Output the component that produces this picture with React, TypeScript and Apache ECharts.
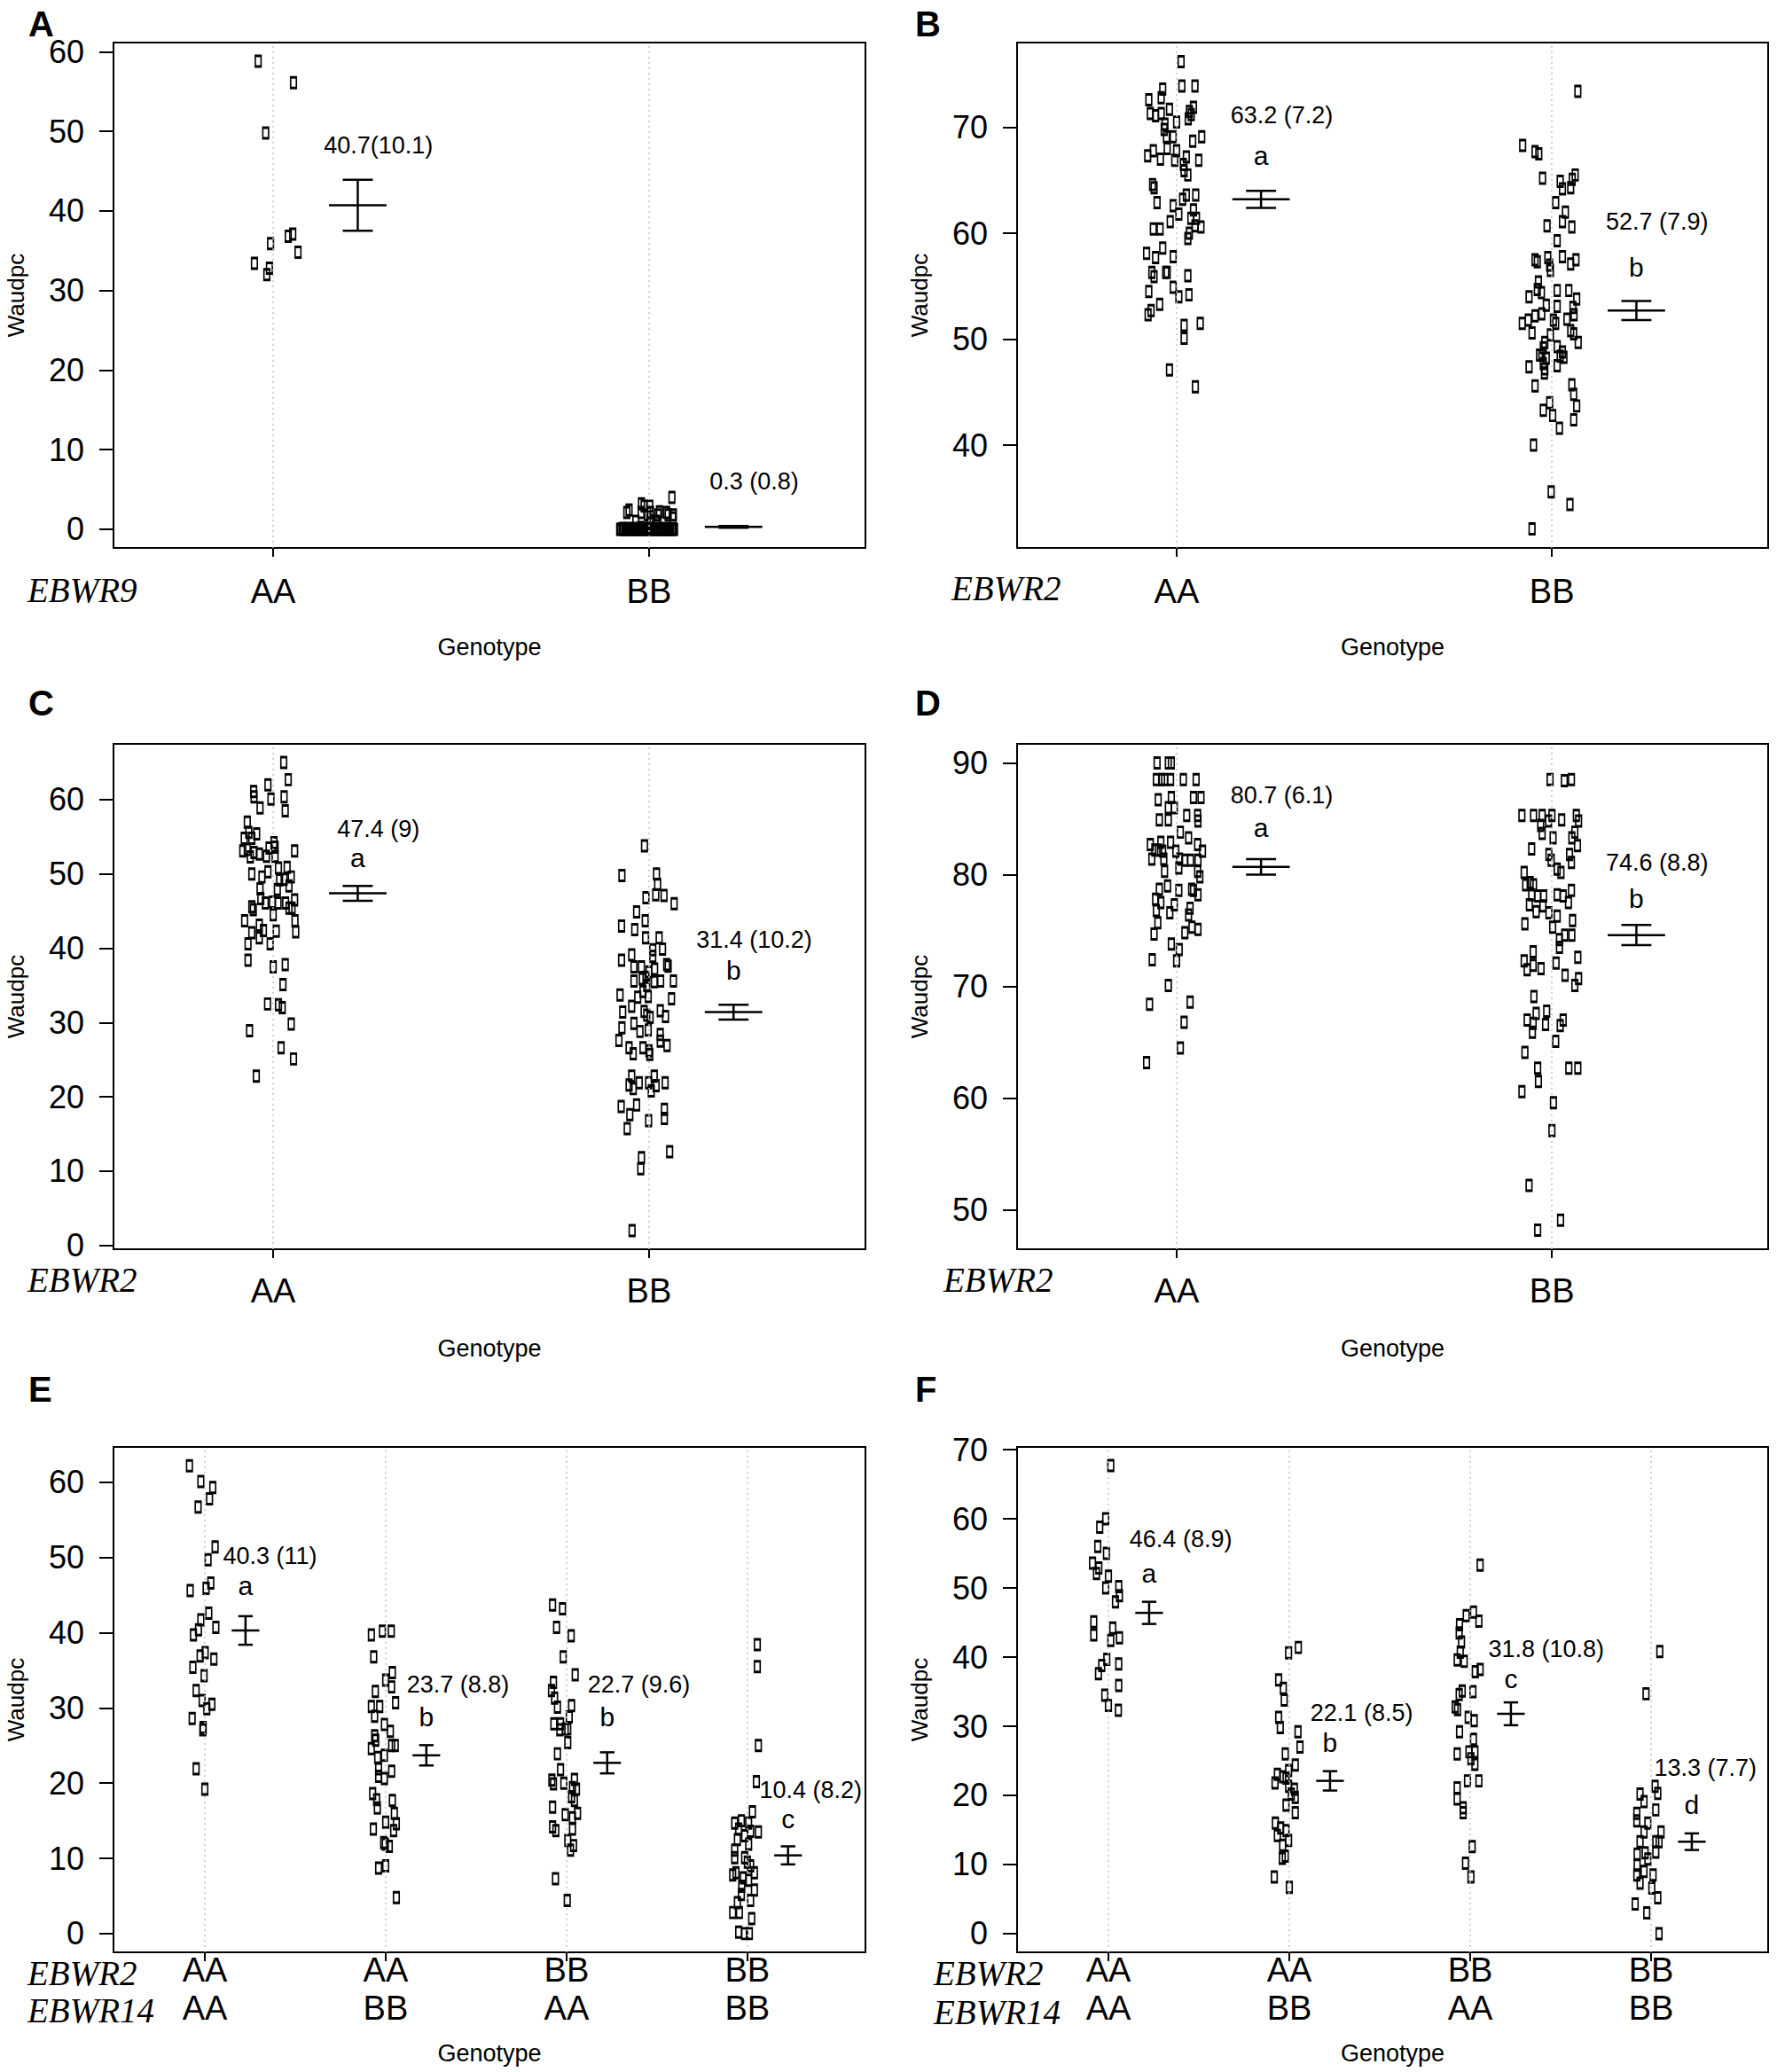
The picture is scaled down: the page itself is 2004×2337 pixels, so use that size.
import React, { useEffect, useRef } from 'react';
import * as echarts from 'echarts';

type P = [number, number]; // [jitter offset from category, Waudpc value]

// ---------- Panel A (EBWR9) ----------
const catsA = ['AA', 'BB'];
const ticksA = [0, 10, 20, 30, 40, 50, 60];
const A_AA: P[] = [[-0.040,58.8],[0.054,56.1],[-0.020,49.8],[0.052,37.1],[0.040,36.8],[-0.007,35.9],[0.066,34.8],[-0.050,33.4],[-0.010,32.8],[-0.017,32.0]];
const A_BB: P[] = [[0.061,4.0],[-0.059,2.1],[-0.053,2.4],[-0.020,3.2],[-0.013,2.9],[0.002,2.9],[-0.021,2.1],[0.004,2.1],[0.028,2.2],[0.024,1.8],[0.047,2.1],[0.051,1.8],[0.065,1.8],[0.063,1.4],[-0.035,1.0],[0.002,1.1],[0.020,1.0],[-0.004,1.8],
  [-0.078,0],[-0.075,0],[-0.071,0.1],[-0.068,0],[-0.064,0],[-0.061,0],[-0.057,0.1],[-0.054,0],[-0.050,0],[-0.047,0],[-0.043,0],[-0.040,0.1],[-0.036,0],[-0.033,0],[-0.029,0],[-0.026,0],[-0.022,0.2],[-0.019,0],[-0.015,0],[-0.012,0],[-0.008,0],[-0.005,0.1],[-0.001,0],[0.002,0],[0.006,0],[0.009,0.1],[0.013,0],[0.016,0],[0.020,0],[0.023,0],[0.027,0.1],[0.030,0],[0.034,0],[0.037,0],[0.041,0],[0.044,0.1],[0.048,0],[0.051,0],[0.055,0],[0.058,0],[0.062,0],[0.065,0],[0.068,0]];
const meansA = [40.7, 0.3];
const seA = [3.2, 0.12];
const labelsA = ['40.7(10.1)', '0.3 (0.8)'];
const labelYA = [48.2, 6.0];
const lettersA: string[] = [];
const letterYA: number[] = [];

// ---------- Panel B (EBWR2) ----------
const catsB = ['AA', 'BB'];
const ticksB = [40, 50, 60, 70];
const B_AA: P[] = [[0.012,76.2],[0.014,73.9],[0.049,73.9],[-0.037,73.6],[-0.041,72.8],[-0.074,72.6],[0.045,71.9],[-0.019,71.7],[-0.070,71.3],[-0.056,71.1],[-0.041,71.3],[0.034,71.5],[0.039,71.2],[0.031,70.8],[0.000,70.5],[-0.031,70.3],[-0.033,69.8],[-0.027,69.1],[-0.009,69.1],[0.067,69.1],[0.043,68.7],[-0.025,68.0],[-0.062,67.8],[-0.077,67.3],[-0.043,67.0],[0.000,67.8],[-0.005,66.9],[0.026,67.2],[0.059,66.9],[0.018,66.5],[0.020,65.9],[0.030,65.5],[-0.064,64.6],[-0.060,64.3],[0.051,63.6],[0.026,63.6],[0.016,63.2],[-0.052,62.9],[-0.009,62.6],[0.006,61.8],[0.045,62.2],[0.038,61.4],[0.053,61.4],[-0.017,61.1],[0.065,60.6],[0.049,60.7],[-0.062,60.4],[-0.044,60.4],[0.034,60.0],[0.030,59.5],[-0.037,58.6],[-0.080,58.1],[-0.056,57.7],[-0.009,57.8],[-0.066,56.3],[-0.060,55.9],[-0.029,56.3],[-0.025,56.3],[0.030,56.0],[-0.074,54.5],[-0.009,54.9],[0.006,54.0],[0.033,54.2],[-0.045,53.3],[-0.068,52.7],[-0.076,52.3],[0.063,51.5],[0.020,51.3],[0.020,50.1],[-0.019,47.1],[0.050,45.5]];
const B_BB: P[] = [[0.069,73.4],[-0.078,68.3],[-0.045,67.7],[-0.035,67.5],[-0.025,65.2],[0.062,65.5],[0.054,65.1],[0.022,64.9],[0.028,64.2],[0.050,64.3],[0.010,62.9],[0.036,62.0],[0.028,61.1],[0.053,60.6],[-0.013,60.7],[0.014,59.3],[-0.045,57.5],[-0.039,57.3],[-0.011,57.7],[-0.006,57.0],[-0.004,56.5],[0.028,57.8],[0.050,57.1],[0.064,57.5],[-0.036,55.4],[-0.039,54.7],[-0.028,54.4],[-0.061,54.0],[0.014,54.6],[0.045,54.6],[0.066,53.8],[-0.015,53.2],[0.014,53.1],[0.056,53.0],[-0.027,52.4],[-0.045,52.2],[-0.063,51.8],[-0.079,51.5],[0.004,51.8],[0.010,51.5],[0.040,51.9],[0.059,52.3],[-0.053,50.6],[0.050,50.8],[0.058,50.5],[-0.004,50.4],[0.070,49.7],[-0.019,49.7],[-0.023,49.2],[0.014,49.3],[-0.027,48.5],[-0.033,48.5],[-0.015,48.2],[0.028,48.8],[0.032,48.3],[0.022,48.4],[-0.023,47.7],[-0.019,47.2],[-0.061,47.4],[0.014,47.5],[-0.020,46.8],[-0.045,45.6],[0.053,45.7],[0.058,44.8],[0.066,43.7],[-0.006,44.0],[-0.023,43.3],[0.002,42.8],[0.058,42.4],[0.020,41.6],[-0.049,40.0],[-0.002,35.6],[0.048,34.4],[-0.053,32.1]];
const meansB = [63.2, 52.7];
const seB = [0.8, 0.9];
const labelsB = ['63.2 (7.2)', '52.7 (7.9)'];
const labelYB = [71.1, 61.1];
const lettersB = ['a', 'b'];
const letterYB = [67.3, 56.8];

// ---------- Panel C (EBWR2) ----------
const catsC = ['AA', 'BB'];
const ticksC = [0, 10, 20, 30, 40, 50, 60];
const C_AA: P[] = [[0.028,65.0],[0.040,62.7],[-0.014,62.0],[-0.052,61.1],[-0.051,60.4],[-0.006,60.1],[0.029,60.4],[-0.035,58.9],[0.032,58.5],[-0.069,57.0],[-0.065,55.6],[-0.044,55.4],[-0.077,54.8],[-0.057,54.8],[0.002,54.2],[0.005,53.6],[0.057,53.1],[-0.081,53.1],[-0.069,53.3],[-0.051,52.9],[-0.037,52.7],[-0.011,53.5],[-0.018,52.4],[0.005,52.4],[-0.061,52.3],[-0.057,50.0],[-0.014,50.3],[-0.030,49.6],[0.014,50.8],[0.037,50.9],[0.029,49.3],[0.048,49.6],[0.017,49.2],[-0.035,48.0],[0.011,47.9],[0.042,48.4],[-0.033,46.7],[-0.021,46.1],[-0.002,46.2],[0.013,46.1],[0.033,46.1],[0.057,46.5],[0.050,45.4],[0.042,45.4],[-0.057,45.6],[-0.053,45.2],[0.000,44.5],[-0.076,43.7],[0.058,43.7],[-0.037,43.1],[-0.026,42.4],[-0.057,42.1],[0.008,42.3],[0.060,42.2],[-0.037,41.4],[-0.067,40.6],[-0.008,40.6],[-0.067,38.4],[0.000,37.5],[0.032,37.8],[0.026,35.1],[-0.015,32.5],[0.014,32.4],[0.024,32.0],[0.048,29.8],[-0.063,28.9],[0.021,26.6],[0.054,25.1],[-0.045,22.8]];
const C_BB: P[] = [[-0.012,53.8],[-0.072,49.8],[0.020,50.0],[0.023,48.6],[0.018,47.2],[0.040,47.1],[-0.008,46.8],[0.067,46.0],[-0.033,44.9],[-0.010,43.7],[-0.073,43.0],[-0.038,42.5],[-0.009,41.4],[0.027,41.4],[0.036,39.9],[0.010,39.8],[0.010,38.9],[-0.046,39.1],[-0.073,38.4],[-0.040,37.5],[-0.020,37.5],[0.015,37.2],[0.047,37.8],[0.051,37.6],[0.000,36.8],[-0.008,36.1],[-0.018,35.9],[-0.040,35.6],[0.014,35.5],[0.031,35.6],[0.065,35.6],[-0.006,35.0],[-0.016,34.2],[-0.077,33.7],[-0.030,33.4],[-0.002,33.5],[0.060,33.2],[-0.046,32.2],[-0.013,31.5],[-0.006,31.0],[0.003,30.7],[-0.070,31.4],[0.030,31.6],[0.044,30.8],[-0.040,29.9],[-0.072,29.3],[-0.024,28.8],[-0.002,29.0],[0.030,28.4],[0.030,27.5],[0.048,26.9],[-0.080,27.6],[-0.053,26.6],[-0.042,25.8],[-0.016,26.6],[0.000,26.2],[0.002,25.7],[-0.046,22.8],[-0.053,21.6],[-0.042,21.1],[-0.026,21.9],[-0.001,21.9],[0.014,22.8],[0.019,21.5],[0.043,21.9],[0.006,20.8],[-0.074,18.7],[-0.033,18.9],[-0.051,17.6],[-0.001,16.8],[0.041,18.3],[0.041,17.1],[-0.058,15.7],[0.055,12.6],[-0.020,11.8],[-0.022,10.3],[-0.045,2.0]];
const meansC = [47.4, 31.4];
const seC = [1.0, 1.0];
const labelsC = ['47.4 (9)', '31.4 (10.2)'];
const labelYC = [56.1, 41.1];
const lettersC = ['a', 'b'];
const letterYC = [52.2, 37.0];

// ---------- Panel D (EBWR2) ----------
const catsD = ['AA', 'BB'];
const ticksD = [50, 60, 70, 80, 90];
const D_AA: P[] = [[-0.052,90.0],[-0.022,90.0],[-0.014,90.0],[-0.054,88.5],[-0.040,88.5],[-0.032,88.5],[-0.016,88.5],[0.018,88.5],[0.052,88.5],[-0.049,86.7],[-0.014,86.9],[0.045,86.9],[0.065,86.9],[-0.022,86.0],[-0.006,86.0],[-0.046,84.9],[-0.022,84.9],[0.027,85.3],[0.056,85.3],[0.057,84.8],[0.010,83.8],[0.032,83.3],[-0.070,82.7],[-0.042,82.9],[-0.016,82.9],[0.056,82.7],[-0.058,82.2],[-0.048,82.2],[-0.037,82.1],[-0.002,82.1],[0.069,82.1],[-0.066,81.4],[-0.034,81.4],[0.008,81.4],[0.022,81.3],[0.037,81.3],[0.057,81.3],[-0.032,80.3],[0.006,80.6],[0.056,80.3],[0.062,79.8],[-0.024,79.0],[-0.046,78.7],[0.006,78.6],[0.040,78.7],[0.045,78.6],[0.057,78.2],[-0.056,77.8],[-0.042,77.5],[-0.054,76.8],[-0.006,77.3],[-0.018,76.6],[0.036,77.0],[0.032,76.4],[-0.050,75.7],[0.041,75.3],[0.057,75.1],[0.022,74.8],[-0.060,74.7],[-0.014,73.8],[0.007,73.3],[-0.065,72.4],[0.000,72.3],[-0.022,70.1],[0.036,68.6],[-0.072,68.4],[0.020,66.8],[0.010,64.5],[-0.080,63.2]];
const D_BB: P[] = [[-0.005,88.5],[0.033,88.4],[0.052,88.5],[-0.080,85.3],[-0.049,85.3],[-0.026,85.3],[0.000,85.3],[0.026,84.9],[0.065,85.3],[-0.009,84.8],[0.071,84.8],[-0.030,84.4],[-0.026,83.7],[0.003,83.3],[0.061,83.8],[0.053,83.3],[0.068,82.6],[-0.054,82.3],[-0.008,81.8],[-0.002,81.3],[0.047,81.8],[0.052,81.1],[0.014,80.5],[0.024,80.2],[-0.074,80.2],[-0.070,79.1],[-0.058,79.3],[-0.049,79.1],[-0.054,78.2],[-0.038,78.1],[-0.022,78.1],[0.014,78.2],[0.030,78.1],[0.052,78.6],[0.044,77.5],[-0.060,77.3],[-0.042,76.7],[-0.024,77.2],[-0.008,76.6],[0.014,76.3],[-0.072,75.6],[0.002,75.3],[0.055,75.9],[0.020,74.2],[0.034,74.6],[0.053,74.6],[0.020,73.5],[-0.050,73.1],[-0.074,72.3],[-0.066,71.5],[-0.050,71.9],[-0.029,71.6],[0.011,72.1],[0.069,72.6],[0.035,71.0],[0.071,70.7],[0.061,70.1],[-0.048,69.1],[-0.014,67.8],[-0.066,67.0],[-0.050,66.7],[-0.042,67.6],[-0.017,66.6],[0.030,67.0],[0.022,66.5],[-0.052,65.9],[0.010,65.1],[-0.072,64.1],[-0.038,62.7],[0.045,62.7],[0.069,62.7],[-0.036,61.5],[-0.080,60.6],[0.004,59.6],[0.000,57.1],[-0.061,52.2],[0.023,49.1],[-0.038,48.2]];
const meansD = [80.7, 74.6];
const seD = [0.7, 0.9];
const labelsD = ['80.7 (6.1)', '74.6 (8.8)'];
const labelYD = [87.1, 81.1];
const lettersD = ['a', 'b'];
const letterYD = [84.2, 77.9];

// ---------- Panel E (EBWR2 x EBWR14) ----------
const catsE2 = ['AA', 'AA', 'BB', 'BB'];
const catsE14 = ['AA', 'BB', 'AA', 'BB'];
const ticksE = [0, 10, 20, 30, 40, 50, 60];
const E_1: P[] = [[-0.085,62.2],[-0.022,60.1],[0.044,59.3],[0.026,57.8],[-0.037,56.7],[0.057,51.4],[0.018,49.7],[-0.081,45.6],[0.007,45.9],[0.033,46.6],[0.022,42.6],[-0.022,41.7],[0.061,40.7],[-0.035,40.4],[-0.063,39.7],[0.002,37.35],[-0.026,36.9],[0.050,36.5],[-0.066,35.4],[-0.004,34.3],[-0.048,32.3],[-0.015,31.0],[0.039,30.5],[0.011,29.9],[-0.070,28.6],[-0.009,27.4],[-0.011,27.1],[-0.048,21.9],[0.000,19.2]];
const E_2: P[] = [[-0.079,39.7],[-0.018,40.2],[0.031,40.2],[-0.066,36.8],[0.037,34.7],[0.000,33.7],[0.033,32.8],[-0.057,32.2],[0.055,30.7],[-0.079,30.2],[-0.033,30.2],[-0.061,28.9],[-0.007,27.8],[0.026,26.9],[-0.061,26.3],[-0.055,25.7],[0.053,25.0],[0.033,25.0],[-0.079,24.6],[-0.007,23.7],[-0.044,23.4],[-0.039,21.9],[0.033,21.6],[-0.007,20.6],[-0.039,20.9],[-0.072,18.6],[-0.050,17.8],[-0.046,16.7],[0.037,17.7],[0.048,16.0],[0.000,14.8],[0.059,14.6],[-0.068,13.9],[0.044,13.7],[-0.011,12.1],[-0.002,11.9],[0.020,11.6],[0.000,9.0],[-0.039,8.7],[0.059,4.8]];
const E_3: P[] = [[-0.077,43.7],[-0.022,43.2],[-0.055,40.7],[0.026,39.6],[-0.018,36.8],[0.048,34.4],[-0.072,33.4],[-0.083,32.3],[-0.066,31.3],[-0.050,30.1],[0.028,30.3],[0.015,28.8],[-0.070,27.9],[-0.033,27.9],[-0.007,27.2],[-0.037,27.1],[0.007,27.2],[0.007,25.4],[-0.050,23.9],[-0.033,21.8],[-0.081,20.4],[-0.072,19.9],[-0.015,20.0],[0.044,20.5],[0.033,19.4],[0.055,19.2],[0.028,18.2],[0.044,17.7],[-0.077,16.8],[-0.007,15.8],[0.061,16.0],[0.033,15.4],[-0.077,14.2],[-0.059,13.7],[0.033,13.9],[0.007,12.4],[0.039,11.7],[0.022,11.1],[-0.061,7.3],[0.004,4.4]];
const E_4: P[] = [[0.055,38.4],[0.055,35.5],[0.061,25.0],[0.050,20.2],[0.028,16.2],[-0.070,14.7],[-0.033,15.0],[0.007,14.7],[0.061,13.5],[0.018,13.6],[-0.055,12.5],[0.007,11.9],[-0.070,11.1],[-0.015,10.1],[-0.070,10.1],[0.018,9.0],[-0.063,8.1],[0.039,8.1],[-0.022,7.4],[0.007,7.1],[-0.031,6.3],[0.039,5.8],[-0.033,5.2],[0.018,4.4],[-0.055,4.1],[-0.081,2.8],[-0.044,2.8],[0.024,2.0],[-0.048,0.2],[-0.015,0.0],[0.011,0.0],[-0.048,13.9],[-0.015,13.0],[0.000,9.5],[-0.081,7.8]];
const meansE = [40.3, 23.7, 22.7, 10.4];
const seE = [1.9, 1.35, 1.4, 1.2];
const labelsE = ['40.3 (11)', '23.7 (8.8)', '22.7 (9.6)', '10.4 (8.2)'];
const labelYE = [50.2, 33.05, 33.05, 19.1];
const labelDxE = [0.36, 0.40, 0.40, 0.35];
const lettersE = ['a', 'b', 'b', 'c'];
const letterYE = [46.3, 28.8, 28.8, 15.3];

// ---------- Panel F (EBWR2 x EBWR14) ----------
const catsF2 = ['AA', 'AA', 'BB', 'BB'];
const catsF14 = ['AA', 'BB', 'AA', 'BB'];
const ticksF = [0, 10, 20, 30, 40, 50, 60, 70];
const F_1: P[] = [[0.013,67.7],[-0.015,60.0],[-0.048,58.8],[-0.059,56.0],[-0.011,55.0],[-0.088,53.6],[-0.053,52.9],[-0.066,52.1],[0.000,51.7],[-0.015,50.0],[0.057,50.2],[0.061,48.9],[0.039,48.0],[-0.081,45.1],[-0.081,43.2],[0.024,44.2],[0.061,42.8],[0.013,42.4],[-0.009,39.7],[-0.037,38.8],[0.057,39.0],[-0.055,37.6],[0.057,35.9],[-0.020,34.5],[0.000,33.0],[0.055,32.3]];
const F_2: P[] = [[-0.004,40.6],[0.050,41.4],[-0.059,36.7],[-0.033,35.5],[-0.028,33.8],[-0.059,31.3],[-0.050,29.8],[0.048,29.2],[0.059,27.0],[-0.022,26.0],[0.033,24.4],[-0.004,23.6],[-0.066,23.05],[-0.037,22.7],[-0.018,22.5],[-0.079,21.8],[-0.004,21.3],[0.028,20.9],[0.011,20.2],[0.033,19.7],[-0.018,18.6],[0.033,17.5],[-0.077,16.0],[-0.048,15.3],[-0.018,14.9],[-0.066,14.2],[-0.004,13.5],[-0.037,12.8],[-0.022,11.2],[-0.039,10.9],[-0.083,8.2],[0.000,6.7]];
const F_3: P[] = [[0.055,53.3],[0.018,46.5],[-0.022,46.0],[0.048,45.2],[-0.059,44.7],[-0.061,43.5],[-0.048,42.2],[-0.055,40.7],[-0.072,39.6],[-0.033,39.4],[0.055,38.2],[0.028,37.9],[-0.044,35.1],[-0.061,34.6],[0.015,35.0],[-0.083,32.8],[-0.070,32.4],[-0.011,31.3],[0.022,30.8],[-0.059,29.2],[0.018,28.1],[-0.072,26.0],[-0.007,26.3],[0.026,26.3],[0.004,25.3],[0.026,24.5],[-0.015,22.1],[0.048,22.1],[-0.072,21.1],[-0.072,19.5],[-0.039,18.2],[-0.039,17.5],[0.011,12.6],[-0.026,10.2],[0.004,8.2]];
const F_4: P[] = [[0.048,40.8],[-0.028,34.7],[0.022,21.3],[0.037,20.3],[-0.061,20.2],[-0.039,19.1],[0.026,17.9],[-0.079,17.4],[-0.079,16.3],[-0.018,16.0],[-0.039,14.7],[0.055,14.7],[-0.061,13.3],[0.026,13.3],[0.044,13.3],[-0.077,11.5],[-0.033,11.7],[0.026,11.8],[-0.018,10.8],[-0.077,9.9],[-0.039,9.0],[-0.079,8.5],[0.011,8.5],[-0.061,7.3],[0.004,6.6],[0.037,5.2],[-0.088,4.3],[-0.024,3.0],[0.044,0.0]];
const meansF = [46.4, 22.1, 31.8, 13.3];
const seF = [1.6, 1.4, 1.65, 1.2];
const labelsF = ['46.4 (8.9)', '22.1 (8.5)', '31.8 (10.8)', '13.3 (7.7)'];
const labelYF = [57.0, 31.9, 41.1, 24.0];
const labelDxF = [0.40, 0.40, 0.42, 0.30];
const lettersF = ['a', 'b', 'c', 'd'];
const letterYF = [52.1, 27.6, 36.8, 18.7];

// ---------- layout / style ----------
const SANS = '"Liberation Sans", Arial, Helvetica, sans-serif';
const SERIF = '"Liberation Serif", "Times New Roman", serif';
const BAR_DX = 0.225;
const MEAN_HW = 0.0765;
const CAP_HW = 0.04;

interface Panel {
  letter: string; letterX: number; letterY: number;
  grid: { left: number; top: number; width: number; height: number };
  ymin: number; ymax: number; yticks: number[];
  xmin: number; xmax: number;
  catRows: string[][]; genes: string[]; geneX: number; geneY: number[];
  labelMargin: number;
  groups: P[][]; means: number[]; se: number[];
  labels: string[]; labelY: number[]; labelDx: number[];
  letters: string[]; letterYs: number[];
}

const panels: Panel[] = [
  { letter: 'A', letterX: 32, letterY: 24, grid: { left: 128, top: 48, width: 848, height: 570 },
    ymin: -2.35, ymax: 61.15, yticks: ticksA, xmin: 0.575, xmax: 2.576,
    catRows: [catsA], genes: ['EBWR9'], geneX: 31, geneY: [668], labelMargin: 27,
    groups: [A_AA, A_BB], means: meansA, se: seA, labels: labelsA, labelY: labelYA, labelDx: [0.28, 0.28],
    letters: lettersA, letterYs: letterYA },
  { letter: 'B', letterX: 1032, letterY: 24, grid: { left: 1147, top: 48, width: 847, height: 570 },
    ymin: 30.3, ymax: 78.0, yticks: ticksB, xmin: 0.575, xmax: 2.576,
    catRows: [catsB], genes: ['EBWR2'], geneX: 1073, geneY: [666], labelMargin: 27,
    groups: [B_AA, B_BB], means: meansB, se: seB, labels: labelsB, labelY: labelYB, labelDx: [0.28, 0.28],
    letters: lettersB, letterYs: letterYB },
  { letter: 'C', letterX: 32, letterY: 790, grid: { left: 128, top: 839, width: 848, height: 570 },
    ymin: -0.52, ymax: 67.52, yticks: ticksC, xmin: 0.575, xmax: 2.576,
    catRows: [catsC], genes: ['EBWR2'], geneX: 31, geneY: [1446], labelMargin: 25,
    groups: [C_AA, C_BB], means: meansC, se: seC, labels: labelsC, labelY: labelYC, labelDx: [0.28, 0.28],
    letters: lettersC, letterYs: letterYC },
  { letter: 'D', letterX: 1032, letterY: 790, grid: { left: 1147, top: 839, width: 847, height: 570 },
    ymin: 46.5, ymax: 91.7, yticks: ticksD, xmin: 0.575, xmax: 2.576,
    catRows: [catsD], genes: ['EBWR2'], geneX: 1064, geneY: [1446], labelMargin: 25,
    groups: [D_AA, D_BB], means: meansD, se: seD, labels: labelsD, labelY: labelYD, labelDx: [0.28, 0.28],
    letters: lettersD, letterYs: letterYD },
  { letter: 'E', letterX: 32, letterY: 1564, grid: { left: 128, top: 1632, width: 848, height: 570 },
    ymin: -2.49, ymax: 64.7, yticks: ticksE, xmin: 0.495, xmax: 4.653,
    catRows: [catsE2, catsE14], genes: ['EBWR2', 'EBWR14'], geneX: 31, geneY: [2228, 2270], labelMargin: -2,
    groups: [E_1, E_2, E_3, E_4], means: meansE, se: seE, labels: labelsE, labelY: labelYE, labelDx: labelDxE,
    letters: lettersE, letterYs: letterYE },
  { letter: 'F', letterX: 1032, letterY: 1564, grid: { left: 1147, top: 1632, width: 847, height: 570 },
    ymin: -2.7, ymax: 70.4, yticks: ticksF, xmin: 0.495, xmax: 4.647,
    catRows: [catsF2, catsF14], genes: ['EBWR2', 'EBWR14'], geneX: 1053, geneY: [2228, 2272], labelMargin: -2,
    groups: [F_1, F_2, F_3, F_4], means: meansF, se: seF, labels: labelsF, labelY: labelYF, labelDx: labelDxF,
    letters: lettersF, letterYs: letterYF },
];

function buildOption() {
  const grid: any[] = [];
  const xAxis: any[] = [];
  const yAxis: any[] = [];
  const series: any[] = [];
  const graphic: any[] = [];

  panels.forEach((p, gi) => {
    const nCat = p.groups.length;
    const catVals = p.groups.map((_, i) => i + 1);
    grid.push({ ...p.grid, show: true, borderColor: '#000', borderWidth: 2, backgroundColor: 'transparent', containLabel: false });
    xAxis.push({
      gridIndex: gi, type: 'value', min: p.xmin, max: p.xmax,
      axisLine: { show: true, onZero: false, lineStyle: { color: '#000', width: 2 } },
      axisTick: { show: true, inside: false, length: 10, customValues: catVals, lineStyle: { color: '#000', width: 2 } },
      axisLabel: {
        show: true, customValues: catVals, margin: p.labelMargin,
        formatter: (v: number) => p.catRows.map((row) => row[Math.round(v) - 1]).join('\n'),
        fontSize: 38, lineHeight: 43, color: '#000', fontFamily: SANS,
      },
      splitLine: { show: false },
      name: 'Genotype', nameLocation: 'middle', nameGap: nCat === 4 ? 100 : 98,
      nameTextStyle: { fontSize: 27, color: '#000', fontFamily: SANS },
    });
    yAxis.push({
      gridIndex: gi, type: 'value', min: p.ymin, max: p.ymax,
      axisLine: { show: true, onZero: false, lineStyle: { color: '#000', width: 2 } },
      axisTick: { show: true, inside: false, length: 16, customValues: p.yticks, lineStyle: { color: '#000', width: 2 } },
      axisLabel: { show: true, customValues: p.yticks, margin: 33, fontSize: 36, color: '#000', fontFamily: SANS },
      splitLine: { show: false },
      name: 'Waudpc', nameLocation: 'middle', nameGap: 97,
      nameTextStyle: { fontSize: 26, color: '#000', fontFamily: SANS },
    });

    // points
    const pts: number[][] = [];
    p.groups.forEach((g, i) => g.forEach(([dx, y]) => pts.push([i + 1 + dx, y])));
    series.push({
      type: 'scatter', xAxisIndex: gi, yAxisIndex: gi, silent: true, z: 2,
      symbol: 'rect', symbolSize: [6.5, 12],
      itemStyle: { color: 'rgba(0,0,0,0)', borderColor: '#000', borderWidth: 2.2, opacity: 1 },
      data: pts,
      markLine: {
        silent: true, symbol: ['none', 'none'], animation: false,
        label: { show: false },
        lineStyle: { color: '#c4c4c4', type: [2, 4], width: 1.5 },
        emphasis: { disabled: true },
        data: catVals.map((v) => ({ xAxis: v })),
      },
    });

    // mean +/- SE bars
    series.push({
      type: 'custom', xAxisIndex: gi, yAxisIndex: gi, silent: true, clip: false, z: 3,
      data: p.means.map((m, i) => [i + 1 + BAR_DX, m, p.se[i]]),
      renderItem: (_params: any, api: any) => {
        const x = api.value(0), m = api.value(1), s = api.value(2);
        const seg = (a: number[], b: number[]) => {
          const p1 = api.coord(a), p2 = api.coord(b);
          return { type: 'line', shape: { x1: p1[0], y1: p1[1], x2: p2[0], y2: p2[1] }, style: { stroke: '#000', lineWidth: 2.5 } };
        };
        return {
          type: 'group',
          children: [
            seg([x - MEAN_HW, m], [x + MEAN_HW, m]),
            seg([x - CAP_HW, m + s], [x + CAP_HW, m + s]),
            seg([x - CAP_HW, m - s], [x + CAP_HW, m - s]),
            seg([x, m - s], [x, m + s]),
          ],
        };
      },
    });

    // text annotations (mean (sd)) and significance letters
    const textSeries = (data: number[][], texts: string[], size: number) => ({
      type: 'custom', xAxisIndex: gi, yAxisIndex: gi, silent: true, clip: false, z: 4,
      data,
      renderItem: (params: any, api: any) => {
        const c = api.coord([api.value(0), api.value(1)]);
        return {
          type: 'text', x: c[0], y: c[1],
          style: {
            text: texts[params.dataIndex], fill: '#000', font: `${size}px ${SANS}`,
            align: 'center', verticalAlign: 'middle', textAlign: 'center', textVerticalAlign: 'middle',
          },
        };
      },
    });
    series.push(textSeries(p.labels.map((_, i) => [i + 1 + p.labelDx[i], p.labelY[i]]), p.labels, 27));
    if (p.letters.length) {
      series.push(textSeries(p.letters.map((_, i) => [i + 1 + BAR_DX, p.letterYs[i]]), p.letters, 30));
    }

    graphic.push({
      type: 'text', left: p.letterX, top: p.letterY - 17,
      style: { text: p.letter, font: `bold 40px ${SANS}`, fill: '#000' },
    });
    p.genes.forEach((g, i) => {
      graphic.push({
        type: 'text', left: p.geneX, top: p.geneY[i] - 22,
        style: { text: g, font: `italic 39px ${SERIF}`, fill: '#000' },
      });
    });
  });

  return { animation: false, backgroundColor: '#fff', grid, xAxis, yAxis, series, graphic };
}

export default function App() {
  const ref = useRef<HTMLDivElement>(null);
  useEffect(() => {
    if (!ref.current) return;
    const chart = echarts.init(ref.current, undefined, { renderer: 'svg' });
    chart.setOption(buildOption() as any);
    return () => chart.dispose();
  }, []);
  return (
    <div
      ref={ref}
      style={{ position: 'fixed', left: 0, top: 0, width: 2004, height: 2337, background: '#fff' }}
    />
  );
}
